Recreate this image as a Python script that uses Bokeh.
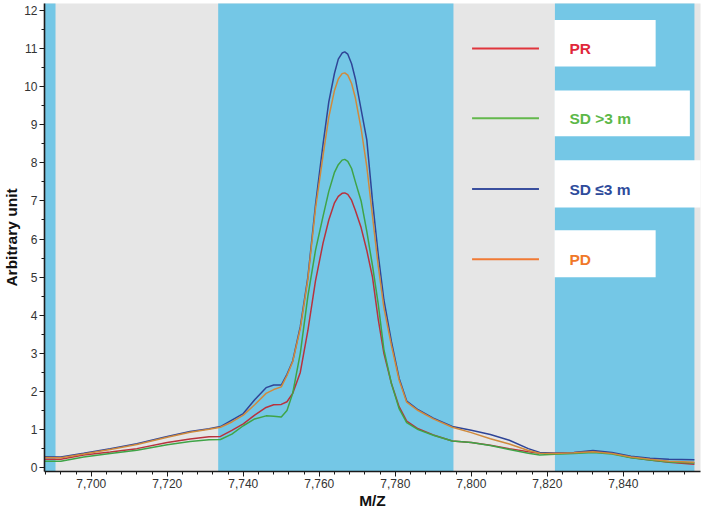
from bokeh.plotting import figure
from bokeh.models import ColumnDataSource, FixedTicker, NumeralTickFormatter, BoxAnnotation, Range1d
from bokeh.core.properties import value
from bokeh.embed import file_html
from bokeh.resources import INLINE
import numpy as np

# ---------------- data ----------------
mz = [7687.7, 7692, 7698, 7705, 7712, 7720, 7726, 7731, 7734, 7737, 7740, 7743, 7746, 7748,
      7750, 7751.5, 7753, 7755, 7757, 7759, 7761, 7762.5, 7764, 7765, 7766, 7766.7, 7767.5,
      7768.5, 7769.5, 7771, 7772.5, 7774, 7775.5, 7777, 7779, 7781, 7783, 7786, 7790, 7795,
      7800, 7805, 7810, 7815, 7818, 7822, 7827, 7832, 7837, 7842, 7847, 7852, 7858.7]

pr = [0.22, 0.22, 0.33, 0.41, 0.50, 0.66, 0.75, 0.81, 0.82, 0.98, 1.15, 1.38, 1.58, 1.65,
      1.66, 1.73, 1.95, 2.50, 3.60, 4.90, 5.90, 6.50, 6.95, 7.12, 7.20, 7.21, 7.17,
      7.02, 6.75, 6.30, 5.70, 5.00, 3.90, 3.00, 2.20, 1.60, 1.22, 1.02, 0.86, 0.70,
      0.66, 0.59, 0.50, 0.42, 0.38, 0.38, 0.39, 0.43, 0.38, 0.27, 0.20, 0.14, 0.09]

sd_gt3 = [0.17, 0.17, 0.28, 0.37, 0.46, 0.60, 0.69, 0.73, 0.74, 0.88, 1.10, 1.28, 1.36, 1.35,
          1.33, 1.50, 1.95, 3.00, 4.50, 5.70, 6.60, 7.25, 7.75, 7.95, 8.07, 8.09, 8.04,
          7.85, 7.50, 7.00, 6.20, 5.30, 4.30, 3.10, 2.20, 1.55, 1.18, 1.00, 0.85, 0.70,
          0.66, 0.58, 0.48, 0.38, 0.33, 0.35, 0.37, 0.40, 0.36, 0.26, 0.20, 0.15, 0.12]

sd_le3 = [0.29, 0.28, 0.38, 0.50, 0.63, 0.82, 0.95, 1.02, 1.08, 1.25, 1.42, 1.78, 2.10, 2.17,
          2.17, 2.45, 2.80, 3.70, 5.00, 6.90, 8.50, 9.60, 10.35, 10.72, 10.88, 10.91, 10.85,
          10.60, 10.20, 9.40, 8.60, 7.00, 5.60, 4.40, 3.30, 2.35, 1.75, 1.52, 1.30, 1.08,
          0.98, 0.87, 0.72, 0.50, 0.40, 0.38, 0.40, 0.45, 0.40, 0.30, 0.25, 0.22, 0.21]

pd_ = [0.27, 0.26, 0.36, 0.48, 0.61, 0.80, 0.93, 1.01, 1.06, 1.20, 1.38, 1.65, 1.95, 2.05,
       2.12, 2.42, 2.78, 3.65, 4.95, 6.80, 8.20, 9.20, 9.90, 10.20, 10.34, 10.36, 10.30,
       10.08, 9.70, 8.90, 7.90, 6.60, 5.30, 4.20, 3.20, 2.30, 1.72, 1.50, 1.28, 1.06,
       0.92, 0.76, 0.62, 0.45, 0.38, 0.37, 0.39, 0.42, 0.37, 0.28, 0.22, 0.17, 0.14]

series_names = ["PR", "SD >3 m", "SD \u22643 m", "PD"]
series_values = [pr, sd_gt3, sd_le3, pd_]

# shaded m/z windows (blue bands)
band_left = [7680.0, 7733.4, 7822.0]
band_right = [7690.6, 7795.3, 7858.7]

x_ticks = [7700, 7720, 7740, 7760, 7780, 7800, 7820, 7840]
y_ticks = [0, 1, 2, 3, 4, 5, 6, 7, 8, 9, 10, 11, 12]

# ---------------- styles ----------------
line_colors = ["#b8323e", "#3fa447", "#2f4597", "#d08a3c"]
legend_line_colors = ["#e0353c", "#63b84c", "#3a4f9e", "#f07a34"]
text_colors = ["#e0283a", "#5cb848", "#2e4b9b", "#f07828"]
FONT = "Liberation Sans"

p = figure(width=702, height=511, output_backend="svg", toolbar_location=None,
           x_range=Range1d(7687.7, 7860.3), y_range=Range1d(-0.1, 12.18),
           min_border_left=0, min_border_right=2, min_border_top=3, min_border_bottom=0)
p.background_fill_color = "#e6e6e6"
p.border_fill_color = "white"
p.outline_line_color = None
p.grid.visible = False

# bands
bands = ColumnDataSource(dict(left=band_left, right=band_right,
                              bottom=[-1] * len(band_left), top=[13] * len(band_left)))
p.quad(left="left", right="right", bottom="bottom", top="top", source=bands,
       fill_color="#74c7e6", line_color=None, level="image")

# curves
for vals, c in zip(series_values, line_colors):
    p.line(mz, vals, line_color=c, line_width=1.5)

# legend (manual)
leg_y = [11.0, 9.17, 7.31, 5.47]
box_top = [11.75, 9.90, 8.07, 6.23]
box_bot = [10.53, 8.70, 6.83, 5.00]
box_right = [7848.5, 7857.5, 7861.8, 7848.5]
for i in range(4):
    p.add_layout(BoxAnnotation(left=7821.9, right=box_right[i], top=box_top[i], bottom=box_bot[i],
                               fill_color="white", fill_alpha=1.0, line_color=None,
                               level="underlay"))
p.segment(x0=[7800.2] * 4, x1=[7817.8] * 4, y0=leg_y, y1=leg_y,
          line_color=legend_line_colors, line_width=2)
tsrc = ColumnDataSource(dict(x=[7825.8] * 4, y=leg_y, text=series_names, color=text_colors))
p.text(x="x", y="y", text="text", text_color="color", source=tsrc,
       text_font=value(FONT), text_font_style="bold", text_font_size="15.5px",
       text_baseline="middle", text_align="left")

# axes
p.xaxis.ticker = FixedTicker(ticks=x_ticks, minor_ticks=list(np.arange(7688, 7860, 4)))
p.xaxis.formatter = NumeralTickFormatter(format="0,0")
p.yaxis.ticker = FixedTicker(ticks=y_ticks, minor_ticks=list(np.arange(0, 12.5, 0.5)))
for ax in (p.xaxis, p.yaxis):
    ax.axis_line_color = "#1a1a1a"
    ax.axis_line_width = 1.6
    ax.major_tick_line_color = "#1a1a1a"
    ax.minor_tick_line_color = "#1a1a1a"
    ax.major_tick_out = 5
    ax.major_tick_in = 0
    ax.minor_tick_out = 3
    ax.minor_tick_in = 0
    ax.major_label_text_font = FONT
    ax.major_label_text_font_size = "12px"
    ax.major_label_text_color = "#333333"
    ax.axis_label_text_font = FONT
    ax.axis_label_text_font_style = "bold"
    ax.axis_label_text_font_size = "15.5px"
    ax.axis_label_text_color = "#111111"
    ax.major_label_standoff = 2
    ax.axis_label_standoff = 1
p.xaxis.axis_label = "M/Z"
p.yaxis.axis_label = "Arbitrary unit"

open("out.html", "w").write(file_html(p, INLINE))
